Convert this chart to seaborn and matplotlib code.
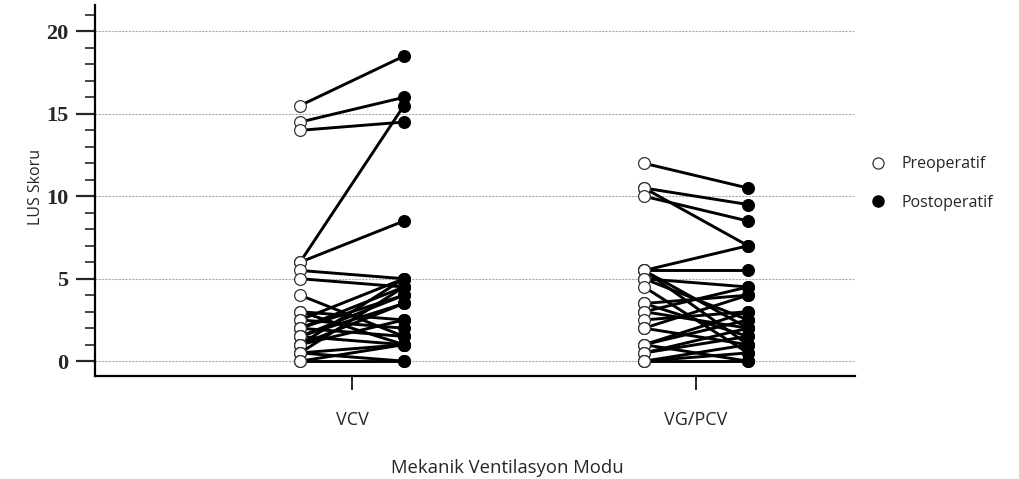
import numpy as np
import pandas as pd
import matplotlib
matplotlib.use("Agg")
import matplotlib.pyplot as plt
from matplotlib.ticker import MultipleLocator
from matplotlib.lines import Line2D
import seaborn as sns

# Paired LUS scores per patient (preoperative, postoperative)
groups = ["VCV", "VG/PCV"]

vcv_pre = [15.5, 14.5, 14, 6, 6, 5.5, 5, 4, 3, 3, 2.5, 2.5, 2, 2, 2,
           1.5, 1.5, 1.5, 1, 1, 1, 0.5, 0.5, 0.5, 0, 0]
vcv_post = [18.5, 16, 14.5, 15.5, 8.5, 5, 4.5, 1.5, 1, 2.5, 5, 2, 4.5, 4, 1.5,
            4, 3.5, 1, 5, 3.5, 2.5, 1, 0, 4.5, 1, 0]

vgpcv_pre = [12, 10.5, 10.5, 10, 5.5, 5.5, 5.5, 5.5, 5, 5, 4.5, 3.5, 3.5, 3,
             3, 2.5, 2, 2, 1, 1, 1, 0.5, 0.5, 0, 0, 0]
vgpcv_post = [10.5, 9.5, 7, 8.5, 7, 5.5, 2, 1, 4.5, 2.5, 0.5, 1.5, 4, 4.5,
              2, 3, 4, 1, 3, 2.5, 0, 2, 1.5, 1, 0, 0.5]

time_labels = ["Preoperatif", "Postoperatif"]
x_label = "Mekanik Ventilasyon Modu"
y_label = "LUS Skoru"

# Long-format table: one row per patient and time point
rows = []
offset = 0.151
for gi, (pre, post) in enumerate([(vcv_pre, vcv_post), (vgpcv_pre, vgpcv_post)]):
    for pi, (a, b) in enumerate(zip(pre, post)):
        sid = f"{groups[gi]}-{pi}"
        rows.append(dict(subject=sid, group=groups[gi], time=time_labels[0],
                         xpos=gi - offset, score=a))
        rows.append(dict(subject=sid, group=groups[gi], time=time_labels[1],
                         xpos=gi + offset, score=b))
df = pd.DataFrame(rows)

sns.set_style("white")
plt.rcParams["font.family"] = ["Open Sans", "DejaVu Sans"]

fig = plt.figure(figsize=(10.19, 4.79), dpi=100)
ax = fig.add_axes([95 / 1019, (479 - 376) / 479, (855 - 95) / 1019, (376 - 5) / 479])

# Patient trajectories
sns.lineplot(data=df, x="xpos", y="score", units="subject", estimator=None,
             color="black", linewidth=2.1, ax=ax, legend=False, zorder=2)

# Time point markers
pre_df = df[df["time"] == time_labels[0]]
post_df = df[df["time"] == time_labels[1]]
sns.scatterplot(data=pre_df, x="xpos", y="score", s=72, color="white",
                edgecolor="#333333", linewidth=0.9, ax=ax, zorder=3, legend=False)
sns.scatterplot(data=post_df, x="xpos", y="score", s=72, color="black",
                edgecolor="black", linewidth=0.9, ax=ax, zorder=3, legend=False)

ax.set_xlim(-0.747, 1.462)
ax.set_ylim(-0.9, 21.6)

# Horizontal reference lines
for yv in [0, 5, 10, 15, 20]:
    ax.axhline(yv, color="#aaaaaa", linestyle=(0, (2, 1)), linewidth=0.8, zorder=1)

ax.set_xticks([0, 1])
ax.set_xticklabels(groups, fontsize=13)
ax.yaxis.set_major_locator(MultipleLocator(5))
ax.yaxis.set_minor_locator(MultipleLocator(1))
ax.tick_params(axis="y", which="major", direction="out", length=14, width=1.6,
               pad=5, left=True)
ax.tick_params(axis="y", which="minor", direction="out", length=7, width=1.2,
               left=True)
ax.tick_params(axis="x", which="major", direction="out", length=10, width=1.4,
               pad=15, bottom=True)
for lbl in ax.get_yticklabels():
    lbl.set_fontfamily(["Liberation Serif", "DejaVu Serif"])
    lbl.set_fontweight("bold")
    lbl.set_fontsize(16)

for side in ["top", "right"]:
    ax.spines[side].set_visible(False)
for side in ["left", "bottom"]:
    ax.spines[side].set_color("black")
    ax.spines[side].set_linewidth(1.6)

ax.set_xlabel(x_label, fontsize=13.3)
ax.xaxis.set_label_coords(0.542, -0.225)
ax.set_ylabel(y_label, fontsize=11.5)
ax.yaxis.set_label_coords(-0.067, 0.51)

handles = [
    Line2D([], [], marker="o", linestyle="none", markersize=8,
           markerfacecolor="white", markeredgecolor="#333333", markeredgewidth=0.9),
    Line2D([], [], marker="o", linestyle="none", markersize=8,
           markerfacecolor="black", markeredgecolor="black"),
]
fig.legend(handles, time_labels, loc="upper left",
           bbox_to_anchor=(862 / 1019, 1 - 150 / 479), frameon=False,
           fontsize=11.5, handletextpad=0.9, labelspacing=1.4,
           borderaxespad=0, handlelength=1.2)

fig.savefig("out.png", dpi=100)
